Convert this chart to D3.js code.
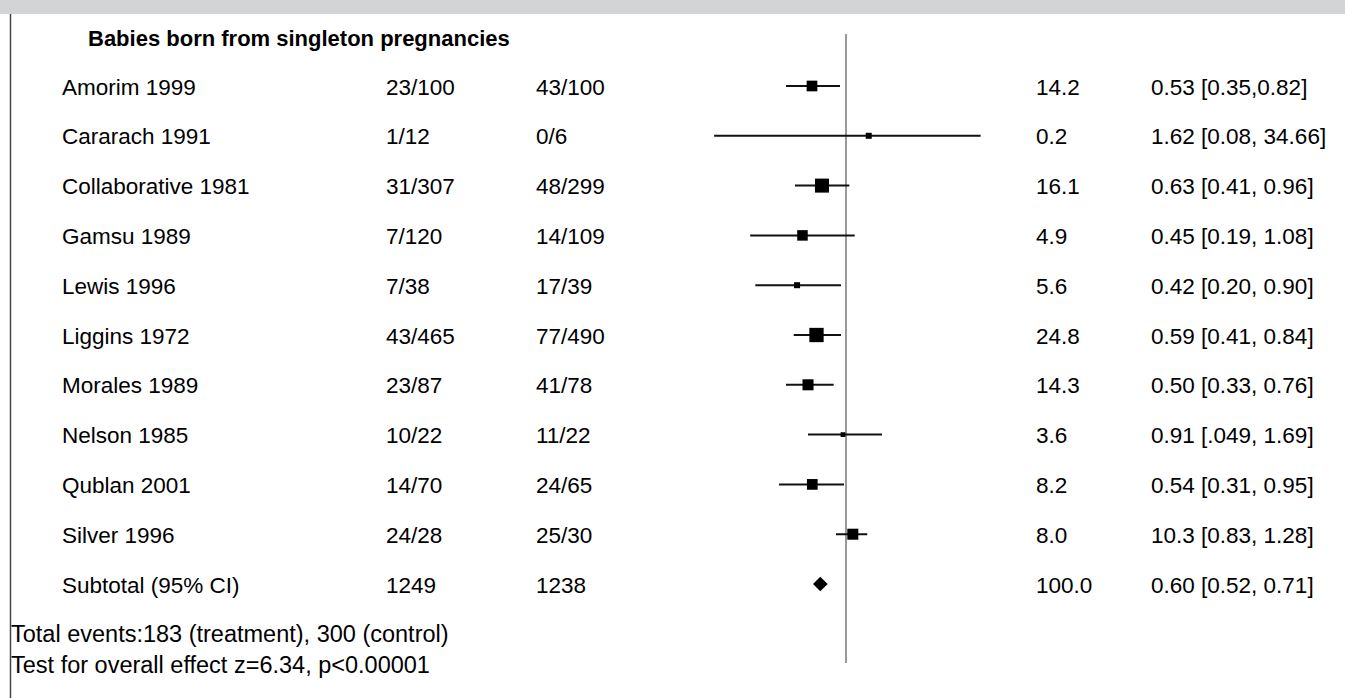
<!DOCTYPE html>
<html>
<head>
<meta charset="utf-8">
<script src="https://cdn.jsdelivr.net/npm/d3@7"></script>
<style>
  html, body { margin: 0; padding: 0; background: #fff; }
  svg { display: block; }
  text { font-family: "Liberation Sans", Arial, sans-serif; fill: #000; }
</style>
</head>
<body>
<svg id="chart" width="1345" height="698"></svg>
<script>
// ---------- data ----------
const title = "Babies born from singleton pregnancies";
const studies = ["Amorim 1999", "Cararach 1991", "Collaborative 1981", "Gamsu 1989", "Lewis 1996",
                 "Liggins 1972", "Morales 1989", "Nelson 1985", "Qublan 2001", "Silver 1996"];
const treatment = ["23/100", "1/12", "31/307", "7/120", "7/38", "43/465", "23/87", "10/22", "14/70", "24/28"];
const control   = ["43/100", "0/6", "48/299", "14/109", "17/39", "77/490", "41/78", "11/22", "24/65", "25/30"];
const weightText = ["14.2", "0.2", "16.1", "4.9", "5.6", "24.8", "14.3", "3.6", "8.2", "8.0"];
const ciText = ["0.53 [0.35,0.82]", "1.62 [0.08, 34.66]", "0.63 [0.41, 0.96]", "0.45 [0.19, 1.08]",
                "0.42 [0.20, 0.90]", "0.59 [0.41, 0.84]", "0.50 [0.33, 0.76]", "0.91 [.049, 1.69]",
                "0.54 [0.31, 0.95]", "10.3 [0.83, 1.28]"];
// marker positions as drawn in the picture (risk ratio, log axis)
const estimate = [0.457, 1.687, 0.575, 0.367, 0.324, 0.507, 0.417, 0.933, 0.460, 1.170];
const lower    = [0.251, 0.048, 0.309, 0.110, 0.124, 0.300, 0.251, 0.417, 0.214, 0.794];
const upper    = [0.871, 22.2, 1.079, 1.222, 0.891, 0.891, 0.753, 2.291, 0.955, 1.633];
// box weights as drawn (box area proportional)
const boxWeight = [13.9, 4.4, 23.8, 13.4, 4.4, 24.8, 14.7, 2.7, 13.9, 14.7];

const subtotalLabel = "Subtotal (95% CI)";
const subtotalTreat = "1249";
const subtotalCtrl = "1238";
const subtotalWeight = "100.0";
const subtotalCI = "0.60 [0.52, 0.71]";
const subtotalEst = [0.468, 0.553, 0.656]; // lower, estimate, upper as drawn

const footnotes = ["Total events:183 (treatment), 300 (control)",
                   "Test for overall effect z=6.34, p<0.00001"];

// ---------- drawing ----------
const svg = d3.select("#chart");
const W = 1345, H = 698;

// frame
svg.append("rect").attr("x", 0).attr("y", 0).attr("width", W).attr("height", 14).attr("fill", "#d3d4d6");
svg.append("line").attr("x1", 10.5).attr("x2", 10.5).attr("y1", 14).attr("y2", H)
   .attr("stroke", "#444").attr("stroke-width", 1.5);

const rows = studies.concat([subtotalLabel]);
const y = d3.scalePoint().domain(rows).range([86, 584]);
const x = d3.scaleLog().domain([0.01, 100]).range([646, 1046]);
const size = d3.scaleSqrt().domain([0, 24.8]).range([0, 14.3]);

const cols = { name: 62, treat: 386, ctrl: 536, weight: 1036, ci: 1151 };
const fs = 22.5, dy = 8.5;

// title
svg.append("text").attr("x", 88).attr("y", 46).attr("font-size", 22).attr("font-weight", "bold").text(title);

// line of no effect
svg.append("line").attr("x1", x(1)).attr("x2", x(1)).attr("y1", 34).attr("y2", 663)
   .attr("stroke", "#999").attr("stroke-width", 2);

const data = studies.map((s, i) => ({
  name: s, t: treatment[i], c: control[i], w: weightText[i], ci: ciText[i],
  est: estimate[i], lo: lower[i], hi: upper[i], bw: boxWeight[i]
}));

const g = svg.append("g");
const row = g.selectAll("g.row").data(data).enter().append("g").attr("class", "row");

row.append("text").attr("x", cols.name).attr("y", d => y(d.name) + dy).attr("font-size", fs).text(d => d.name);
row.append("text").attr("x", cols.treat).attr("y", d => y(d.name) + dy).attr("font-size", fs).text(d => d.t);
row.append("text").attr("x", cols.ctrl).attr("y", d => y(d.name) + dy).attr("font-size", fs).text(d => d.c);
row.append("text").attr("x", cols.weight).attr("y", d => y(d.name) + dy).attr("font-size", fs).text(d => d.w);
row.append("text").attr("x", cols.ci).attr("y", d => y(d.name) + dy).attr("font-size", fs).text(d => d.ci);

row.append("line")
   .attr("x1", d => x(d.lo)).attr("x2", d => x(d.hi))
   .attr("y1", d => y(d.name)).attr("y2", d => y(d.name))
   .attr("stroke", "#111").attr("stroke-width", 2);
row.append("rect")
   .attr("x", d => x(d.est) - size(d.bw) / 2)
   .attr("y", d => y(d.name) - size(d.bw) / 2)
   .attr("width", d => size(d.bw)).attr("height", d => size(d.bw))
   .attr("fill", "#000");

// subtotal row
const ys = y(subtotalLabel);
[[cols.name, subtotalLabel], [cols.treat, subtotalTreat], [cols.ctrl, subtotalCtrl],
 [cols.weight, subtotalWeight], [cols.ci, subtotalCI]].forEach(([cx, t]) => {
  svg.append("text").attr("x", cx).attr("y", ys + dy).attr("font-size", fs).text(t);
});
const dh = 7.3;
svg.append("path")
   .attr("d", `M${x(subtotalEst[0])},${ys} L${x(subtotalEst[1])},${ys - dh} L${x(subtotalEst[2])},${ys} L${x(subtotalEst[1])},${ys + dh} Z`)
   .attr("fill", "#000");

// footnotes
footnotes.forEach((t, i) => {
  svg.append("text").attr("x", 11).attr("y", 642 + i * 31).attr("font-size", 23.5).text(t);
});
</script>
</body>
</html>
